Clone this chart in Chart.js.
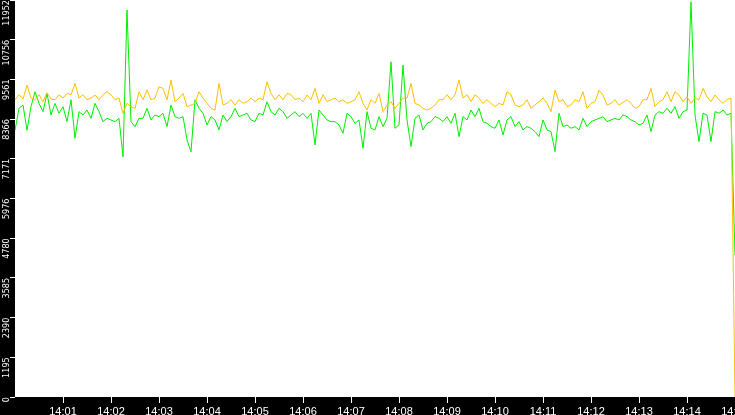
<!DOCTYPE html>
<html>
<head>
<meta charset="utf-8">
<script src="https://cdn.jsdelivr.net/npm/chart.js@4/dist/chart.umd.min.js"></script>
<style>
    html, body { margin: 0; padding: 0; background: #000; overflow: hidden; }
    #wrap { width: 735px; height: 415px; position: relative; }
</style>
</head>
<body>
<div id="wrap"><canvas id="chart"></canvas></div>
<script>
// samples every 5 seconds, from 14:00:00 to 14:15:00
const sampleStep = 5;
const xTickLabels = ['14:01', '14:02', '14:03', '14:04', '14:05', '14:06', '14:07', '14:08',
    '14:09', '14:10', '14:11', '14:12', '14:13', '14:14', '14:15'];
const yTicks = [0, 1195, 2390, 3585, 4780, 5976, 7171, 8366, 9561, 10756, 11952];

const orangeValues = [
    8950, 9100, 8970, 9390, 9000, 8950, 9100, 8890, 9160, 8970, 8950, 9100, 9000, 9140, 9100,
    9440, 9000, 9100, 8950, 9000, 9090, 8950, 9100, 9190, 9100, 8950, 9000, 8540, 8840, 8740,
    8690, 9190, 8950, 9240, 8950, 9000, 9340, 9290, 8950, 9540, 8890, 9000, 9140, 8740, 8790,
    8840, 9190, 9000, 8840, 8690, 8640, 9440, 8790, 8840, 8950, 8790, 8950, 8840, 8890, 9000,
    8890, 9000, 8950, 9490, 9140, 8950, 9100, 8950, 9140, 9100, 8950, 9000, 8890, 9090, 8950,
    9290, 8840, 9100, 8890, 8950, 9000, 8890, 8950, 8840, 8890, 8950, 9190, 8840, 8640, 8950,
    8840, 9140, 8590, 8790, 8890, 8690, 8840, 9000, 9000, 9440, 8840, 8790, 8690, 8640, 8690,
    8790, 8950, 8950, 9100, 8950, 9100, 9540, 9000, 9100, 8890, 9100, 9000, 8840, 8950, 8840,
    8740, 8840, 8790, 9190, 9100, 8790, 8740, 8790, 8950, 8690, 8790, 8890, 9000, 8840, 8590,
    9240, 8890, 8950, 8740, 8790, 8950, 8890, 9190, 8690, 8840, 8890, 9240, 9090, 8790, 8840,
    8950, 8790, 8870, 8950, 8840, 8690, 8740, 8950, 8950, 9290, 8740, 8890, 8950, 9190, 8890,
    9190, 9090, 8890, 9040, 8840, 9000, 8950, 9290, 9040, 8890, 9090, 8950, 8840, 8950, 9000,
    0
];
const greenValues = [
    8030, 8690, 8790, 8030, 8740, 9190, 8840, 8590, 9140, 8490, 8840, 8540, 8740, 8290, 8950,
    7790, 8590, 8490, 8640, 8390, 8840, 8590, 8290, 8390, 8340, 8290, 8390, 7230, 11650, 8290,
    8140, 8390, 8390, 8690, 8340, 8490, 8440, 8540, 8140, 8790, 8440, 8390, 8440, 7740, 7380,
    8950, 8690, 8540, 8190, 8440, 8340, 8040, 8490, 8290, 8440, 8690, 8440, 8490, 8540, 8340,
    8290, 8540, 8490, 8890, 8590, 8490, 8690, 8590, 8390, 8490, 8590, 8440, 8540, 8390, 8540,
    7590, 8640, 8490, 8340, 8290, 8290, 8190, 7940, 8540, 8440, 8240, 8340, 7490, 8590, 8090,
    8040, 8440, 8140, 8390, 10090, 8090, 8190, 9990, 8340, 7540, 8390, 8490, 8040, 8240, 8290,
    8440, 8390, 8290, 8440, 8240, 8540, 7840, 8440, 8340, 8640, 8440, 8690, 8290, 8240, 8140,
    8090, 8340, 7890, 8340, 8440, 8140, 8290, 8040, 8140, 8090, 7990, 7840, 8340, 8040, 7990,
    7390, 8540, 8140, 8190, 8090, 8140, 8040, 8390, 8140, 8290, 8340, 8390, 8440, 8290, 8340,
    8390, 8340, 8490, 8440, 8340, 8290, 8190, 8240, 8490, 7990, 8490, 8590, 8540, 8690, 8540,
    8740, 8390, 8590, 8640, 11900, 8490, 7690, 8540, 8490, 7690, 8590, 8540, 8640, 8490, 8540,
    4270
];

const orangeColor = '#ffbf00';
const greenColor = '#00ee00';

function toPoints(values) {
    return values.map((v, i) => ({ x: i * sampleStep, y: v }));
}

// black frame, white plotting area
const backgroundPlugin = {
    id: 'background',
    beforeDraw(chart) {
        const { ctx, chartArea } = chart;
        ctx.save();
        ctx.fillStyle = '#000';
        ctx.fillRect(0, 0, chart.width, chart.height);
        ctx.fillStyle = '#fff';
        ctx.fillRect(chartArea.left, chartArea.top, chartArea.right - chartArea.left, chartArea.bottom - chartArea.top);
        ctx.restore();
    }
};

const ctx = document.getElementById('chart').getContext('2d');
new Chart(ctx, {
    type: 'line',
    data: {
        datasets: [
            {
                data: toPoints(orangeValues),
                borderColor: orangeColor,
                borderWidth: 1,
                pointRadius: 0,
                tension: 0
            },
            {
                data: toPoints(greenValues),
                borderColor: greenColor,
                borderWidth: 1,
                pointRadius: 0,
                tension: 0
            }
        ]
    },
    options: {
        responsive: true,
        maintainAspectRatio: false,
        devicePixelRatio: 1,
        animation: false,
        layout: { padding: 0 },
        plugins: {
            legend: { display: false },
            tooltip: { enabled: false }
        },
        scales: {
            x: {
                type: 'linear',
                min: 0,
                max: 900,
                afterBuildTicks: scale => {
                    scale.ticks = xTickLabels.map((label, i) => ({ value: (i + 1) * 60 }));
                },
                ticks: {
                    color: '#fff',
                    font: { family: 'Liberation Sans', size: 11 },
                    padding: 2,
                    maxRotation: 0,
                    autoSkip: false,
                    callback: value => xTickLabels[Math.round(value / 60) - 1]
                },
                grid: { drawOnChartArea: false, color: '#fff', tickLength: 6 },
                border: { display: false },
                afterFit: scale => {
                    scale.height = 18;
                    scale.paddingLeft = 0;
                    scale.paddingRight = 0;
                }
            },
            y: {
                min: 0,
                max: 11952,
                afterBuildTicks: scale => {
                    scale.ticks = yTicks.map(v => ({ value: v }));
                },
                ticks: {
                    color: '#fff',
                    font: { family: '"Liberation Sans Narrow", "DejaVu Sans Condensed", sans-serif', size: 9 },
                    padding: 3,
                    minRotation: 90,
                    maxRotation: 90,
                    autoSkip: false,
                    callback: value => String(value)
                },
                grid: { drawOnChartArea: false, color: '#fff', tickLength: 5 },
                border: { display: false },
                afterFit: scale => {
                    scale.width = 15;
                    scale.paddingTop = 0;
                    scale.paddingBottom = 0;
                }
            }
        }
    },
    plugins: [backgroundPlugin]
});
</script>
</body>
</html>
